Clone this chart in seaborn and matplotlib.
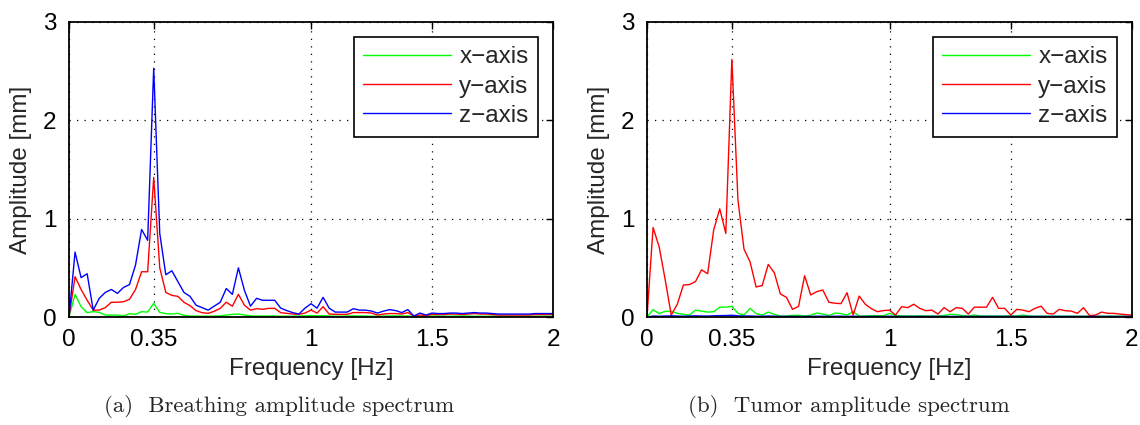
import numpy as np
import pandas as pd
import matplotlib
matplotlib.use("Agg")
import matplotlib.pyplot as plt
import seaborn as sns

# ---------------- data ----------------
freq = [round(0.025 * i, 3) for i in range(81)]  # 0 .. 2 Hz, 0.025 Hz bins
series_names = ["x\u2212axis", "y\u2212axis", "z\u2212axis"]
xticks = [0, 0.35, 1, 1.5, 2]
xtick_labels = ["0", "0.35", "1", "1.5", "2"]
yticks = [0, 1, 2, 3]
captions = ["(a)  Breathing amplitude spectrum", "(b)  Tumor amplitude spectrum"]

breath_x = [0, 0.23, 0.105, 0.044, 0.055, 0.047, 0.02, 0.02, 0.02, 0.01,
            0.034, 0.027, 0.054, 0.05, 0.14, 0.047, 0.034, 0.03, 0.037, 0.017,
            0.01, 0.01, 0.008, 0.008, 0.01, 0.012, 0.02, 0.027, 0.03, 0.02,
            0.012, 0.01, 0.01, 0.01, 0.01, 0.008, 0.008, 0.008, 0.01, 0.012,
            0.015, 0.012, 0.014, 0.01, 0.008, 0.008, 0.01, 0.012, 0.01, 0.01,
            0.008, 0.008, 0.01, 0.01, 0.012, 0.01, 0.01, 0.008, 0.008, 0.01,
            0.01, 0.01, 0.008, 0.008, 0.01, 0.01, 0.01, 0.008, 0.008, 0.008,
            0.01, 0.01, 0.008, 0.008, 0.008, 0.008, 0.008, 0.008, 0.008, 0.008,
            0.008]
breath_y = [0, 0.41, 0.28, 0.17, 0.07, 0.07, 0.095, 0.15, 0.15, 0.155,
            0.18, 0.28, 0.46, 0.46, 1.42, 0.50, 0.25, 0.22, 0.21, 0.15,
            0.115, 0.065, 0.044, 0.037, 0.058, 0.088, 0.15, 0.11, 0.23, 0.12,
            0.07, 0.085, 0.078, 0.088, 0.088, 0.044, 0.037, 0.03, 0.027, 0.04,
            0.07, 0.04, 0.105, 0.03, 0.027, 0.027, 0.027, 0.045, 0.045, 0.045,
            0.04, 0.02, 0.03, 0.035, 0.035, 0.03, 0.045, 0.01, 0.02, 0.015,
            0.027, 0.025, 0.025, 0.03, 0.03, 0.025, 0.03, 0.035, 0.03, 0.03,
            0.025, 0.02, 0.02, 0.02, 0.02, 0.02, 0.02, 0.025, 0.025, 0.025,
            0.025]
breath_z = [0, 0.66, 0.40, 0.44, 0.07, 0.19, 0.25, 0.28, 0.24, 0.30,
            0.33, 0.53, 0.89, 0.78, 2.53, 0.85, 0.43, 0.47, 0.36, 0.25,
            0.21, 0.12, 0.095, 0.07, 0.11, 0.15, 0.29, 0.23, 0.50, 0.27,
            0.11, 0.19, 0.17, 0.17, 0.17, 0.09, 0.065, 0.044, 0.03, 0.09,
            0.135, 0.09, 0.20, 0.09, 0.05, 0.05, 0.05, 0.085, 0.07, 0.07,
            0.06, 0.04, 0.06, 0.075, 0.065, 0.045, 0.075, 0.01, 0.04, 0.02,
            0.04, 0.035, 0.035, 0.04, 0.04, 0.035, 0.04, 0.045, 0.04, 0.04,
            0.035, 0.03, 0.03, 0.03, 0.03, 0.03, 0.03, 0.035, 0.035, 0.035,
            0.035]

tumor_x = [0, 0.075, 0.034, 0.058, 0.058, 0.037, 0.027, 0.02, 0.07, 0.06,
           0.05, 0.054, 0.10, 0.10, 0.11, 0.037, 0.02, 0.088, 0.034, 0.02,
           0.05, 0.027, 0.01, 0.01, 0.017, 0.017, 0.01, 0.017, 0.04, 0.03,
           0.014, 0.04, 0.034, 0.02, 0.054, 0.01, 0.01, 0.014, 0.014, 0.012,
           0.037, 0.015, 0.012, 0.01, 0.01, 0.012, 0.01, 0.01, 0.01, 0.015,
           0.027, 0.025, 0.015, 0.01, 0.02, 0.01, 0.01, 0.01, 0.01, 0.01,
           0.012, 0.01, 0.02, 0.01, 0.008, 0.008, 0.008, 0.008, 0.008, 0.008,
           0.008, 0.008, 0.008, 0.008, 0.008, 0.008, 0.008, 0.008, 0.008, 0.008,
           0.008]
tumor_y = [0, 0.91, 0.715, 0.38, 0.02, 0.13, 0.325, 0.33, 0.36, 0.48,
           0.44, 0.885, 1.10, 0.85, 2.62, 1.19, 0.69, 0.56, 0.305, 0.32,
           0.535, 0.45, 0.234, 0.20, 0.078, 0.108, 0.42, 0.224, 0.258, 0.275,
           0.15, 0.14, 0.136, 0.247, 0.02, 0.213, 0.13, 0.085, 0.054, 0.065,
           0.07, 0.02, 0.105, 0.095, 0.13, 0.088, 0.064, 0.07, 0.03, 0.095,
           0.054, 0.095, 0.088, 0.03, 0.10, 0.10, 0.10, 0.20, 0.088, 0.088,
           0.02, 0.078, 0.07, 0.054, 0.088, 0.11, 0.037, 0.03, 0.078, 0.064,
           0.06, 0.037, 0.095, 0.014, 0.02, 0.05, 0.037, 0.037, 0.03, 0.024,
           0.02]
tumor_z = [0, 0.01, 0.008, 0.01, 0.012, 0.01, 0.008, 0.01, 0.012, 0.01,
           0.01, 0.012, 0.014, 0.015, 0.018, 0.012, 0.01, 0.01, 0.008, 0.008,
           0.01, 0.008, 0.006, 0.006, 0.006, 0.006, 0.006, 0.006, 0.008, 0.008,
           0.006, 0.008, 0.008, 0.006, 0.008, 0.006, 0.006, 0.006, 0.006, 0.006,
           0.008, 0.006, 0.006, 0.006, 0.006, 0.006, 0.006, 0.006, 0.006, 0.006,
           0.006, 0.006, 0.006, 0.006, 0.006, 0.006, 0.006, 0.006, 0.006, 0.006,
           0.006, 0.006, 0.006, 0.006, 0.006, 0.006, 0.006, 0.006, 0.006, 0.006,
           0.006, 0.006, 0.006, 0.006, 0.006, 0.006, 0.006, 0.006, 0.006, 0.006,
           0.006]

palette = {series_names[0]: "#00ff00", series_names[1]: "#ff0000", series_names[2]: "#0000ff"}

# ---------------- style ----------------
sns.set_style("white")
plt.rcParams["font.family"] = ["Liberation Sans", "DejaVu Sans"]
FS = 17.5

fig = plt.figure(figsize=(11.4, 4.25), dpi=100)
ax_rects = [[69 / 1140, 108 / 425, 484 / 1140, 295 / 425],
            [647 / 1140, 108 / 425, 485 / 1140, 295 / 425]]
panels = [(breath_x, breath_y, breath_z), (tumor_x, tumor_y, tumor_z)]
cap_x = [279 / 1140, 849 / 1140]

for rect, (sx, sy, sz), cap, cx in zip(ax_rects, panels, captions, cap_x):
    ax = fig.add_axes(rect)
    df = pd.DataFrame({
        "freq": freq * 3,
        "amp": list(sx) + list(sy) + list(sz),
        "axis": [series_names[0]] * len(freq) + [series_names[1]] * len(freq) + [series_names[2]] * len(freq),
    })
    sns.lineplot(data=df, x="freq", y="amp", hue="axis", palette=palette,
                 hue_order=series_names, estimator=None, linewidth=1.0, ax=ax)
    ax.set_xlim(0, 2)
    ax.set_ylim(0, 3)
    ax.set_xticks(xticks)
    ax.set_xticklabels(xtick_labels, fontsize=FS)
    ax.set_yticks(yticks)
    ax.set_yticklabels([str(t) for t in yticks], fontsize=FS)
    ax.set_xlabel("Frequency [Hz]", fontsize=FS, labelpad=5)
    ax.set_ylabel("Amplitude [mm]", fontsize=FS, labelpad=8)
    ax.set_axisbelow(True)
    ax.grid(True, color="black", linestyle=(0, (1, 5)), linewidth=0.9)
    ax.tick_params(direction="in", top=True, right=True, length=5, width=1.0,
                   colors="black", pad=9)
    for sp in ax.spines.values():
        sp.set_visible(True)
        sp.set_color("black")
        sp.set_linewidth(1.3)
    handles, labels = ax.get_legend_handles_labels()
    leg = ax.legend(handles, labels, loc="upper right", fontsize=FS,
                    frameon=True, fancybox=False, framealpha=1,
                    edgecolor="black", handlelength=3.6, handletextpad=0.35,
                    borderpad=0.4, labelspacing=0.3, borderaxespad=0.6)
    leg.get_frame().set_linewidth(1.2)
    fig.text(cx, 1 - 407 / 425, cap, ha="center", va="center",
             fontsize=16.5, family="cmr10")

fig.savefig("out.png", dpi=100)
